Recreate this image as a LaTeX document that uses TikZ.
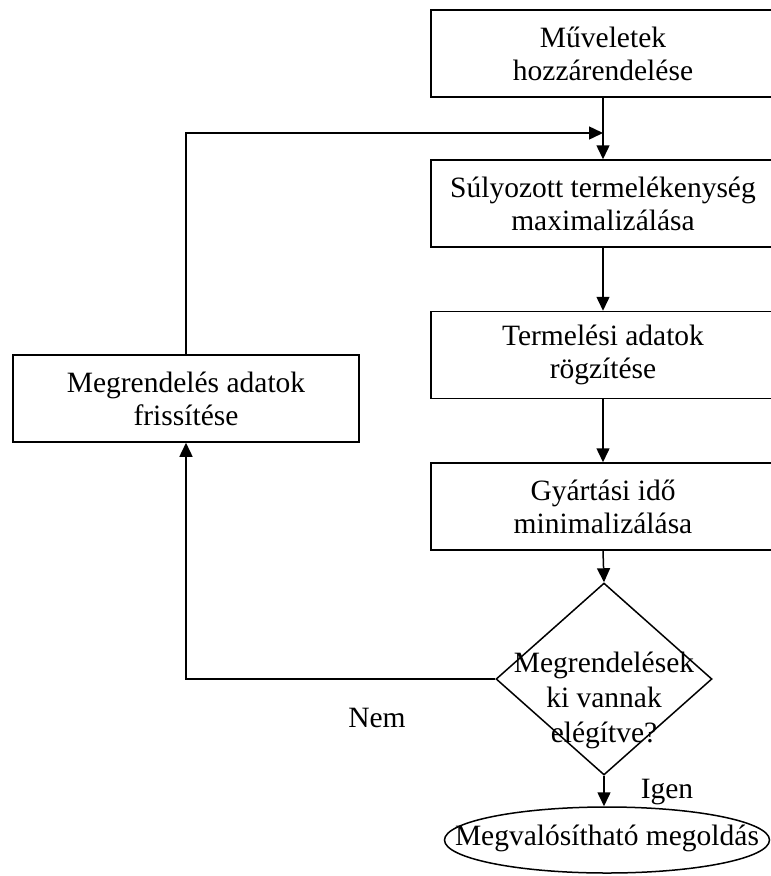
\documentclass[tikz,border=0pt]{standalone}
\usepackage{fontspec}
\setmainfont{Liberation Serif}
\usetikzlibrary{shapes.geometric,arrows.meta}
\begin{document}
\begin{tikzpicture}[x=1pt,y=-1pt,
  every node/.style={font=\fontsize{29.5}{33}\selectfont},
  procbox/.style={draw,line width=1.5pt,rectangle,minimum width=344pt,minimum height=87pt,inner sep=0pt,align=center},
  leftbox/.style={draw,line width=1.5pt,rectangle,minimum width=346pt,minimum height=87pt,inner sep=0pt,align=center},
  decision/.style={draw,line width=1.5pt,diamond,aspect=1.125,minimum width=216pt,minimum height=192pt,inner sep=0pt},
  terminal/.style={draw,line width=1.5pt,ellipse,minimum width=325pt,minimum height=66pt,inner sep=0pt},
  plain/.style={inner sep=0pt,align=center},
  arr/.style={line width=1.5pt,-{Triangle[length=14pt,width=13pt]}}]
\useasboundingbox (0,0) rectangle (771,876);
\node[procbox] (b1) at (603,53.5) {Műveletek\\hozzárendelése};
\node[procbox] (b2) at (603,203.5) {Súlyozott termelékenység\\maximalizálása};
\node[procbox] (b3) at (603,355) {Termelési adatok\\rögzítése};
\node[procbox] (b4) at (603,506.5) {Gyártási idő\\minimalizálása};
\node[decision] (d) at (604,679) {};
\node[plain] (dt) at (604,700) {Megrendelések\\[2pt]ki vannak\\[2pt]elégítve?};
\node[terminal] (e) at (607,840) {};
\node[plain] (et) at (607,838) {Megvalósítható megoldás};
\node[leftbox] (lb) at (186,398.5) {Megrendelés adatok\\frissítése};
\node[plain] (igen) at (667,792) {Igen};
\node[plain] (nem) at (377,718) {Nem};
\coordinate (c1) at (186,679);
\coordinate (c2) at (186,133);
\coordinate (c3) at (603,133);
\draw[arr] (b1.south) -- (b2.north);
\draw[arr] (b2.south) -- (b3.north);
\draw[arr] (b3.south) -- (b4.north);
\draw[arr] (b4.south) -- (d.north);
\draw[arr] (d.south) -- (d.south |- e.north);
\draw[arr] (d.west) -- (c1) -- (lb.south);
\draw[arr] (lb.north) -- (c2) -- (c3);
\end{tikzpicture}
\end{document}
